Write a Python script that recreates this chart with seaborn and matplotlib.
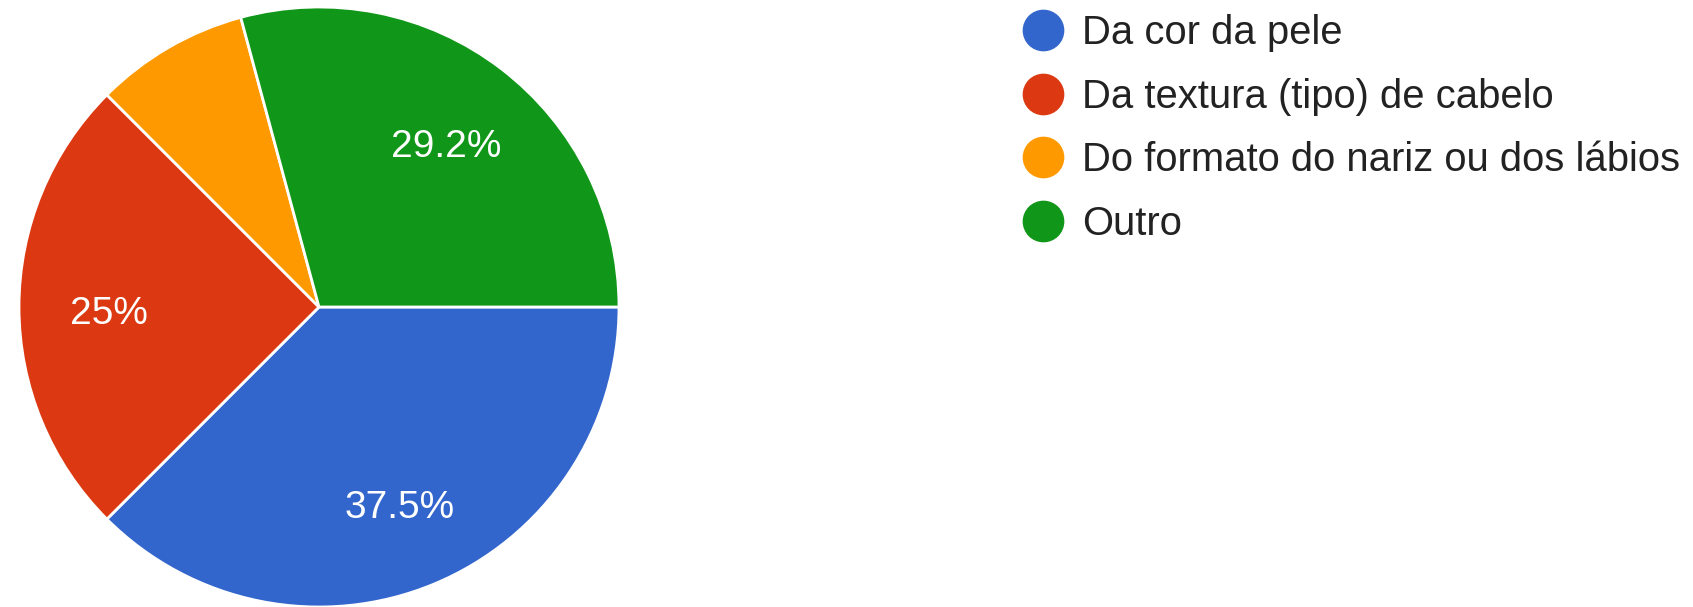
import seaborn as sns
import matplotlib
matplotlib.use('Agg')
import matplotlib.pyplot as plt
from matplotlib.lines import Line2D
from matplotlib.transforms import offset_copy

categories = ['Da cor da pele', 'Da textura (tipo) de cabelo',
              'Do formato do nariz ou dos lábios', 'Outro']
shares = [37.5, 25.0, 8.3, 29.2]
colors = ['#3366cc', '#dc3912', '#ff9900', '#109618']

sns.set_theme(style='white')
plt.rcParams['font.family'] = ['Liberation Sans', 'DejaVu Sans']

fig = plt.figure(figsize=(16.93, 6.07), dpi=100)
ax = fig.add_axes([319/1693 - 300/1693, 1 - 607/607, 600/1693, 600/607])

def fmt(p):
    # small slices get no label, like the original
    return '' if p < 10 else ('%.1f%%' % p).replace('.0%', '%')

wedges, texts, autotexts = ax.pie(
    shares, colors=colors, startangle=0, counterclock=False,
    autopct=fmt, pctdistance=0.7,
    wedgeprops=dict(edgecolor='white', linewidth=2),
    textprops=dict(color='white', fontsize=28))
# nudge the percentage labels down a touch
for t in autotexts:
    t.set_transform(offset_copy(ax.transData, fig=fig, y=-7, units='dots'))
ax.set_xlim(-1, 1)
ax.set_ylim(-1, 1)
ax.set_aspect('equal')

handles = [Line2D([0], [0], marker='o', linestyle='none', markersize=29,
                  markerfacecolor=c, markeredgecolor=c) for c in colors]
fig.legend(handles, categories, loc='upper left',
           bbox_to_anchor=(1023/1693, 1 - 14/607), frameon=False,
           fontsize=28.8, labelspacing=0.64, handlelength=1.0,
           handletextpad=0.48, borderpad=0, borderaxespad=0,
           labelcolor='#222222')

fig.savefig('out.png', dpi=100)
